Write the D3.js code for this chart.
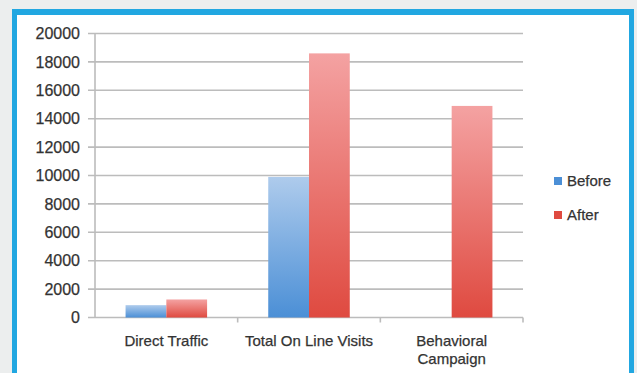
<!DOCTYPE html>
<html><head><meta charset="utf-8">
<script src="https://cdn.jsdelivr.net/npm/d3@7"></script>
<style>
html,body{margin:0;padding:0;background:#eceeee;}
svg{display:block;}
text{font-family:"Liberation Sans",Arial,sans-serif;fill:#333333;stroke:#333333;stroke-width:0.25px;}
</style></head>
<body>
<svg id="chart" width="637" height="373"></svg>
<script>
const categories = ["Direct Traffic", "Total On Line Visits", "Behavioral Campaign"];
const seriesNames = ["Before", "After"];
const beforeValues = [870, 9900, 0];
const afterValues = [1270, 18600, 14900];
const yTicks = [0, 2000, 4000, 6000, 8000, 10000, 12000, 14000, 16000, 18000, 20000];

(function(){
const svg = d3.select("#chart");
const W = 637, H = 373;

// background + frame
svg.append("rect").attr("x",0).attr("y",0).attr("width",W).attr("height",H).attr("fill","#eceeee");
svg.append("rect").attr("x",12).attr("y",9).attr("width",622).attr("height",380).attr("fill","#21a7e1");
svg.append("rect").attr("x",17).attr("y",15).attr("width",612).attr("height",380).attr("fill","#ffffff");

const defs = svg.append("defs");
const gradSpec = {Before:["#aecbec","#4b8fd6"], After:["#f4a2a2","#df4a40"]};
seriesNames.forEach(s=>{
  const g = defs.append("linearGradient").attr("id","g"+s).attr("x1",0).attr("y1",0).attr("x2",0).attr("y2",1);
  g.append("stop").attr("offset","0%").attr("stop-color",gradSpec[s][0]);
  g.append("stop").attr("offset","100%").attr("stop-color",gradSpec[s][1]);
});

const pLeft = 95, pRight = 523, pTop = 33.5, pBottom = 317.5;
const y = d3.scaleLinear().domain([0,20000]).range([pBottom, pTop]);
const x0 = d3.scaleBand().domain(categories).range([pLeft, pRight]).paddingInner(0).paddingOuter(0);
const bw = x0.bandwidth();
const barW = bw/3.5;
const x1 = d3.scaleBand().domain(seriesNames).range([(bw-2*barW)/2, (bw+2*barW)/2]).padding(0);

// gridlines
const grid = svg.append("g");
grid.selectAll("line").data(yTicks).enter().append("line")
  .attr("x1", pLeft-7).attr("x2", pRight)
  .attr("y1", d=>y(d)).attr("y2", d=>y(d))
  .attr("stroke","#bcbcbc").attr("stroke-width",1.6);

// y axis line
svg.append("line").attr("x1",pLeft).attr("x2",pLeft).attr("y1",pTop).attr("y2",pBottom)
  .attr("stroke","#bcbcbc").attr("stroke-width",1.6);

// x ticks at band boundaries
const bounds = categories.map(c=>x0(c)+bw);
svg.selectAll(".xt").data(bounds).enter().append("line")
  .attr("x1",d=>d).attr("x2",d=>d).attr("y1",pBottom).attr("y2",pBottom+5)
  .attr("stroke","#bcbcbc").attr("stroke-width",1.6);

// y tick labels
svg.append("g").selectAll("text").data(yTicks).enter().append("text")
  .attr("x",80).attr("y",d=>y(d)).attr("dy","0.36em")
  .attr("text-anchor","end").attr("font-size","16px")
  .text(d=>d);

// bars
const data = categories.map((c,i)=>({cat:c, vals:[{s:"Before",v:beforeValues[i]},{s:"After",v:afterValues[i]}]}));
const groups = svg.append("g").selectAll("g").data(data).enter().append("g")
  .attr("transform",d=>`translate(${x0(d.cat)},0)`);
groups.selectAll("rect").data(d=>d.vals.filter(e=>e.v>0)).enter().append("rect")
  .attr("x",d=>x1(d.s)).attr("width",x1.bandwidth())
  .attr("y",d=>y(d.v)).attr("height",d=>pBottom-y(d.v))
  .attr("fill",d=>`url(#g${d.s})`);

// category labels
const catLines = {"Behavioral Campaign":["Behavioral","Campaign"]};
categories.forEach(c=>{
  const lines = catLines[c] || [c];
  const t = svg.append("text").attr("text-anchor","middle").attr("font-size","15px");
  lines.forEach((l,i)=>{
    t.append("tspan").attr("x",x0(c)+bw/2).attr("y",341+i*18).attr("dy","0.36em").text(l);
  });
});

// legend
const legY = [181, 215];
const leg = svg.append("g").selectAll("g").data(seriesNames).enter().append("g")
  .attr("transform",(d,i)=>`translate(554,${legY[i]})`);
leg.append("rect").attr("x",0).attr("y",-4).attr("width",8).attr("height",8)
  .attr("fill",d=>gradSpec[d][1]);
leg.append("text").attr("x",13).attr("y",0).attr("dy","0.36em").attr("font-size","15px").text(d=>d);
})();
</script>
</body></html>
